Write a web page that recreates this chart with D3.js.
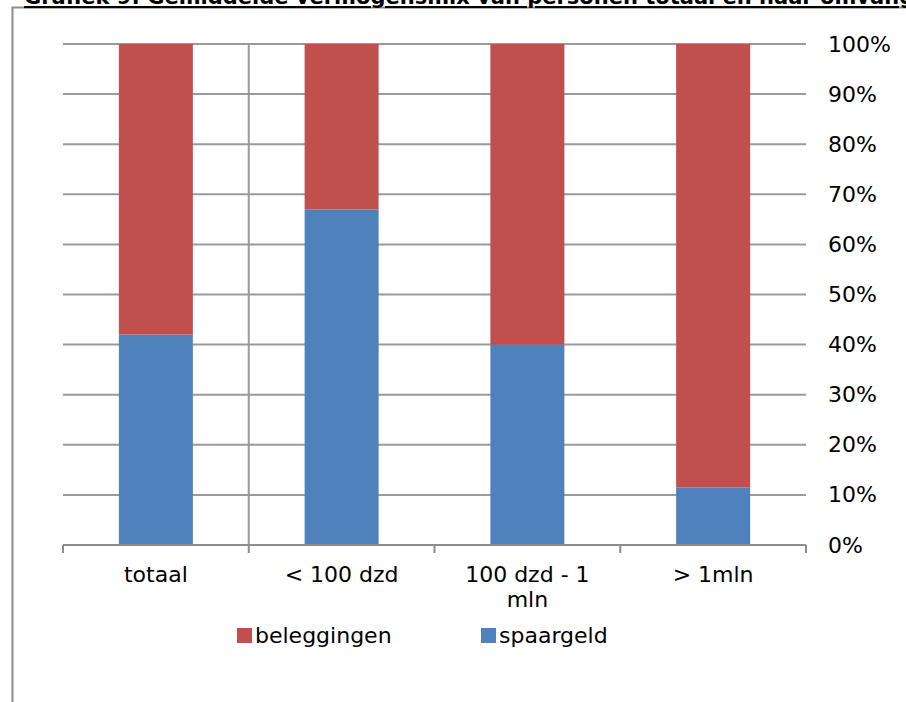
<!DOCTYPE html>
<html>
<head>
<meta charset="utf-8">
<script src="https://cdn.jsdelivr.net/npm/d3@7"></script>
<style>
  html, body { margin: 0; padding: 0; background: #fff; }
  svg { display: block; }
  text { font-family: "DejaVu Sans", Verdana, sans-serif; fill: #000; }
</style>
</head>
<body>
<svg id="chart" width="906" height="702"></svg>
<script>
const title = "Grafiek 9: Gemiddelde vermogensmix van personen totaal en naar omvang vermogen";
const categories = ["totaal", "< 100 dzd", "100 dzd - 1 mln", "> 1mln"];
const categoryLines = [["totaal"], ["< 100 dzd"], ["100 dzd - 1", "mln"], ["> 1mln"]];
const spaargeld = [0.42, 0.67, 0.40, 0.115];
const beleggingen = spaargeld.map(v => 1 - v);
const seriesNames = ["beleggingen", "spaargeld"];
const seriesColors = ["#C0504D", "#4F81BD"];
const yTicks = [0, 0.1, 0.2, 0.3, 0.4, 0.5, 0.6, 0.7, 0.8, 0.9, 1.0];

const svg = d3.select("#chart");

// Outer frame (extends beyond the visible page on right/bottom)
svg.append("rect").attr("x", 12.5).attr("y", 7.5).attr("width", 1000).attr("height", 800)
  .attr("fill", "none").attr("stroke", "#8c8c8c").attr("stroke-width", 2);

// Title, mostly cut off at the top (as in the reference)
svg.append("text").attr("x", 24).attr("y", 4).attr("font-size", 21).attr("font-weight", "bold")
  .attr("fill", "#1a1a1a").attr("text-decoration", "underline").text(title);

const x0 = 63, x1 = 806, yTop = 44, yBot = 545;
const x = d3.scaleBand().domain(categories).range([x0, x1]).paddingInner(0).paddingOuter(0);
const y = d3.scaleLinear().domain([0, 1]).range([yBot, yTop]);
const barW = 74;

// Horizontal gridlines
svg.append("g").selectAll("line").data(yTicks.filter(t => t > 0)).join("line")
  .attr("x1", x0).attr("x2", x1).attr("y1", d => y(d)).attr("y2", d => y(d))
  .attr("stroke", "#9a9a9a").attr("stroke-width", 2);

// Single vertical gridline between first and second category
svg.append("line").attr("x1", x(categories[1])).attr("x2", x(categories[1]))
  .attr("y1", yTop).attr("y2", yBot).attr("stroke", "#9a9a9a").attr("stroke-width", 2);

// Stacked bars
const stackData = categories.map((c, i) => ({cat: c, spaargeld: spaargeld[i], beleggingen: beleggingen[i]}));
const stack = d3.stack().keys(["spaargeld", "beleggingen"])(stackData);
const colorOf = {spaargeld: seriesColors[1], beleggingen: seriesColors[0]};
svg.append("g").selectAll("g").data(stack).join("g")
  .attr("fill", d => colorOf[d.key])
  .selectAll("rect").data(d => d).join("rect")
  .attr("x", d => x(d.data.cat) + x.bandwidth() / 2 - barW / 2)
  .attr("width", barW)
  .attr("y", d => y(d[1]))
  .attr("height", d => y(d[0]) - y(d[1]));

// X axis line and ticks
svg.append("line").attr("x1", x0).attr("x2", x1).attr("y1", yBot).attr("y2", yBot)
  .attr("stroke", "#8c8c8c").attr("stroke-width", 2);
const tickXs = categories.map(c => x(c)).concat([x1]);
svg.append("g").selectAll("line").data(tickXs).join("line")
  .attr("x1", d => d).attr("x2", d => d).attr("y1", yBot).attr("y2", yBot + 8)
  .attr("stroke", "#8c8c8c").attr("stroke-width", 2);

// Category labels
const lab = svg.append("g").selectAll("text").data(categories).join("text")
  .attr("x", d => x(d) + x.bandwidth() / 2).attr("y", 582)
  .attr("text-anchor", "middle").attr("font-size", 22);
lab.each(function(d, i) {
  d3.select(this).selectAll("tspan").data(categoryLines[i]).join("tspan")
    .attr("x", x(d) + x.bandwidth() / 2)
    .attr("dy", (t, j) => j === 0 ? 0 : 25)
    .text(t => t);
});

// Right axis labels
const yAxis = d3.axisRight(y).tickValues(yTicks).tickFormat(d3.format(".0%")).tickSize(0).tickPadding(22);
const ya = svg.append("g").attr("transform", `translate(${x1},0)`).call(yAxis);
ya.select(".domain").remove();
ya.selectAll("text").attr("font-size", 22).attr("font-family", "DejaVu Sans, Verdana, sans-serif").attr("fill", "#000");

// Legend
const legendX = [237, 481];
const lg = svg.append("g").selectAll("g").data(seriesNames).join("g")
  .attr("transform", (d, i) => `translate(${legendX[i]},628)`);
lg.append("rect").attr("width", 15).attr("height", 15).attr("fill", (d, i) => seriesColors[i]);
lg.append("text").attr("x", 18).attr("y", 15).attr("font-size", 22).text(d => d);
</script>
</body>
</html>
